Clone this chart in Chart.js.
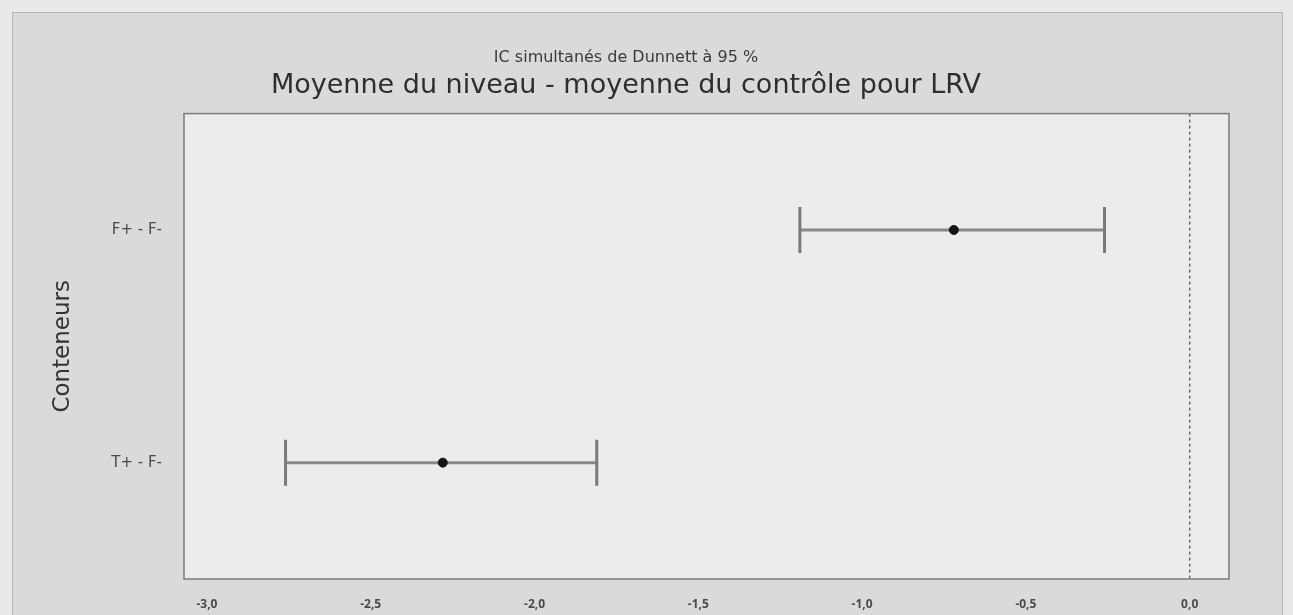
<!DOCTYPE html>
<html>
<head>
<meta charset="utf-8">
<script src="https://cdn.jsdelivr.net/npm/chart.js@4"></script>
<style>
  html, body { margin: 0; padding: 0; background: #e9e9e8; overflow: hidden; }
  #frame {
    position: absolute; left: 12px; top: 12px;
    width: 1269px; height: 620px;
    background: #dbdad9; border: 1px solid #b4b4b4;
  }
  #chart { display: block; }
</style>
</head>
<body>
<div id="frame"><canvas id="chart" width="1269" height="602"></canvas></div>
<script>
// Dunnett simultaneous CIs, level mean - control mean (LRV)
const categories = ['F+ - F-', 'T+ - F-'];
const estimates = [-0.72, -2.28];
const lowerBounds = [-1.19, -2.76];
const upperBounds = [-0.26, -1.81];
const xTickValues = [-3.0, -2.5, -2.0, -1.5, -1.0, -0.5, 0.0];
const referenceValue = 0;

const plotBox = {
  id: 'plotBox',
  beforeDraw(chart) {
    const { ctx, chartArea: a } = chart;
    ctx.save();
    ctx.fillStyle = '#ececec';
    ctx.fillRect(a.left, a.top, a.right - a.left, a.bottom - a.top);
    ctx.restore();
  },
  afterDatasetsDraw(chart) {
    const { ctx, chartArea: a, scales } = chart;
    const x0 = scales.x.getPixelForValue(referenceValue);
    ctx.save();
    ctx.strokeStyle = '#6a6a6a';
    ctx.lineWidth = 1.5;
    ctx.setLineDash([3, 3]);
    ctx.beginPath();
    ctx.moveTo(x0, a.top);
    ctx.lineTo(x0, a.bottom);
    ctx.stroke();
    ctx.setLineDash([]);
    ctx.strokeStyle = '#7c7c7c';
    ctx.lineWidth = 1.5;
    ctx.strokeRect(a.left, a.top, a.right - a.left, a.bottom - a.top);
    ctx.restore();
  }
};

const intervalSets = categories.map((c, i) => ({
  type: 'line',
  data: [{ x: lowerBounds[i], y: c }, { x: upperBounds[i], y: c }],
  borderColor: '#888888',
  borderWidth: 3,
  pointStyle: 'line',
  rotation: 90,
  pointRadius: 23,
  pointBorderColor: '#7a7a7a',
  pointBorderWidth: 3,
  pointBackgroundColor: '#7a7a7a'
}));

const pointSet = {
  type: 'scatter',
  data: categories.map((c, i) => ({ x: estimates[i], y: c })),
  pointStyle: 'circle',
  pointRadius: 4.5,
  backgroundColor: '#151515',
  borderColor: '#151515'
};

new Chart(document.getElementById('chart'), {
  type: 'scatter',
  data: { datasets: [pointSet, ...intervalSets] },
  plugins: [plotBox],
  options: {
    responsive: false,
    animation: false,
    layout: { padding: { left: 10, right: 53, top: 0, bottom: 0 } },
    plugins: {
      legend: { display: false },
      tooltip: { enabled: false },
      title: {
        display: true,
        text: 'IC simultanés de Dunnett à 95 %',
        color: '#3a3a3a',
        font: { family: 'DejaVu Sans', size: 16, weight: 'normal' },
        padding: { top: 35, bottom: 3 }
      },
      subtitle: {
        display: true,
        text: 'Moyenne du niveau - moyenne du contrôle pour LRV',
        color: '#2e2e2e',
        font: { family: 'DejaVu Sans', size: 27 },
        padding: { top: 0, bottom: 11 }
      }
    },
    scales: {
      x: {
        type: 'linear',
        min: -3.07,
        max: 0.12,
        afterBuildTicks: s => { s.ticks = xTickValues.map(v => ({ value: v })); },
        afterFit: s => { s.height = 36; },
        grid: { display: false },
        border: { display: false },
        ticks: {
          color: '#4a4a4a',
          font: { family: 'Open Sans', size: 12, weight: 'bold' },
          padding: 10,
          callback: v => v.toFixed(1).replace('.', ',')
        }
      },
      y: {
        type: 'category',
        labels: categories,
        offset: true,
        afterFit: s => { s.width = 161; },
        grid: { display: false },
        border: { display: false },
        ticks: {
          color: '#4a4a4a',
          font: { family: 'DejaVu Sans', size: 15 },
          padding: 14
        },
        title: {
          display: true,
          text: 'Conteneurs',
          color: '#333',
          font: { family: 'DejaVu Sans', size: 23 },
          padding: { top: 26, bottom: 0 }
        }
      }
    }
  }
});
</script>
</body>
</html>
